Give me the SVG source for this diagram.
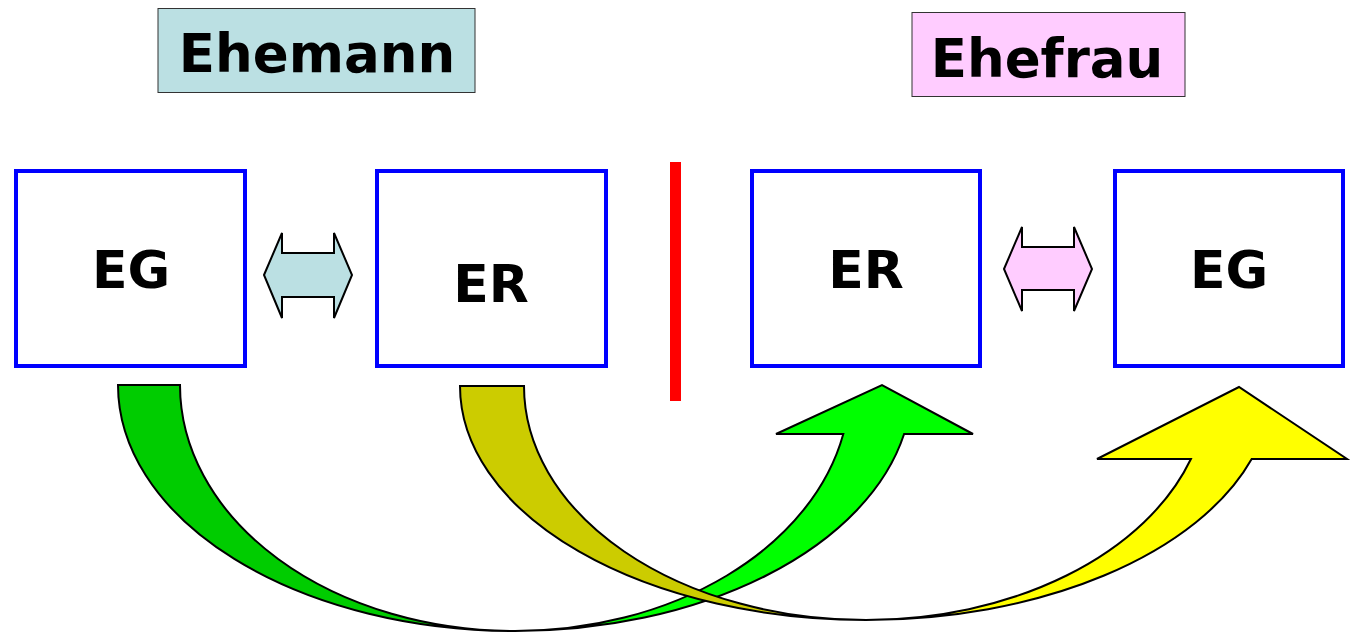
<svg xmlns="http://www.w3.org/2000/svg" width="1352" height="632" viewBox="0 0 1352 632">
  <style>
    .lbl { font-family: "DejaVu Sans", Verdana, sans-serif; font-weight: bold; fill: #000; text-anchor: middle; }
    .title { font-size: 53px; }
    .key { font-size: 52px; }
    .box { fill: #fff; stroke: #0000FF; stroke-width: 4; }
    .tag { stroke: #333; stroke-width: 1; }
    .shape { stroke: #000; stroke-width: 2; stroke-linejoin: miter; }
  </style>
  <rect width="1352" height="632" fill="#fff"/>

  <!-- header tags -->
  <g id="ehemann">
    <rect class="tag" x="158" y="8.5" width="317" height="84" fill="#BBE0E3"/>
    <text class="lbl title" x="317" y="72">Ehemann</text>
  </g>
  <g id="ehefrau">
    <rect class="tag" x="912" y="12.5" width="273" height="84" fill="#FFCCFF"/>
    <text class="lbl title" x="1047" y="77">Ehefrau</text>
  </g>

  <!-- blue boxes -->
  <g id="eg-left">
    <rect class="box" x="16" y="171" width="229" height="195"/>
    <text class="lbl key" x="131" y="288">EG</text>
  </g>
  <g id="er-left">
    <rect class="box" x="377" y="171" width="229" height="195"/>
    <text class="lbl key" x="491" y="302">ER</text>
  </g>
  <g id="er-right">
    <rect class="box" x="752" y="171" width="228" height="195"/>
    <text class="lbl key" x="866" y="288">ER</text>
  </g>
  <g id="eg-right">
    <rect class="box" x="1115" y="171" width="228" height="195"/>
    <text class="lbl key" x="1229" y="288">EG</text>
  </g>

  <!-- divider -->
  <g id="divider">
    <rect x="670" y="162" width="11" height="239" fill="#FF0000"/>
  </g>

  <g id="connectors">
    <!-- two-way arrows between EG and ER -->
    <polygon class="shape" fill="#BBE0E3" points="264,275 282,233 282,253 334,253 334,233 352,275 334,318 334,297 282,297 282,318"/>
    <polygon class="shape" fill="#FFCCFF" points="1004,269 1022,227 1022,247 1074,247 1074,227 1092,269 1074,311 1074,290 1022,290 1022,311"/>

    <!-- curved arrow: EG (husband) to ER (wife) -->
    <path class="shape" fill="#00CC00" d="M118,385 L180,385 A335,246 0 0 0 515,631 A397,246 0 0 1 118,385 Z"/>
    <path class="shape" fill="#00FF00" d="M515,631 A335,246 0 0 0 843.3,434 L776,434 L882,385 L973,434 L904.1,434 A397,246 0 0 1 515,631 Z"/>

    <!-- curved arrow: ER (husband) to EG (wife) -->
    <path class="shape" fill="#CCCC00" d="M460,386 L524,386 A342,234 0 0 0 866,620 A406,234 0 0 1 460,386 Z"/>
    <path class="shape" fill="#FFFF00" d="M866,620 A342,234 0 0 0 1190.9,459 L1097,459 L1239,387 L1347,459 L1251.7,459 A406,234 0 0 1 866,620 Z"/>
  </g>
</svg>
